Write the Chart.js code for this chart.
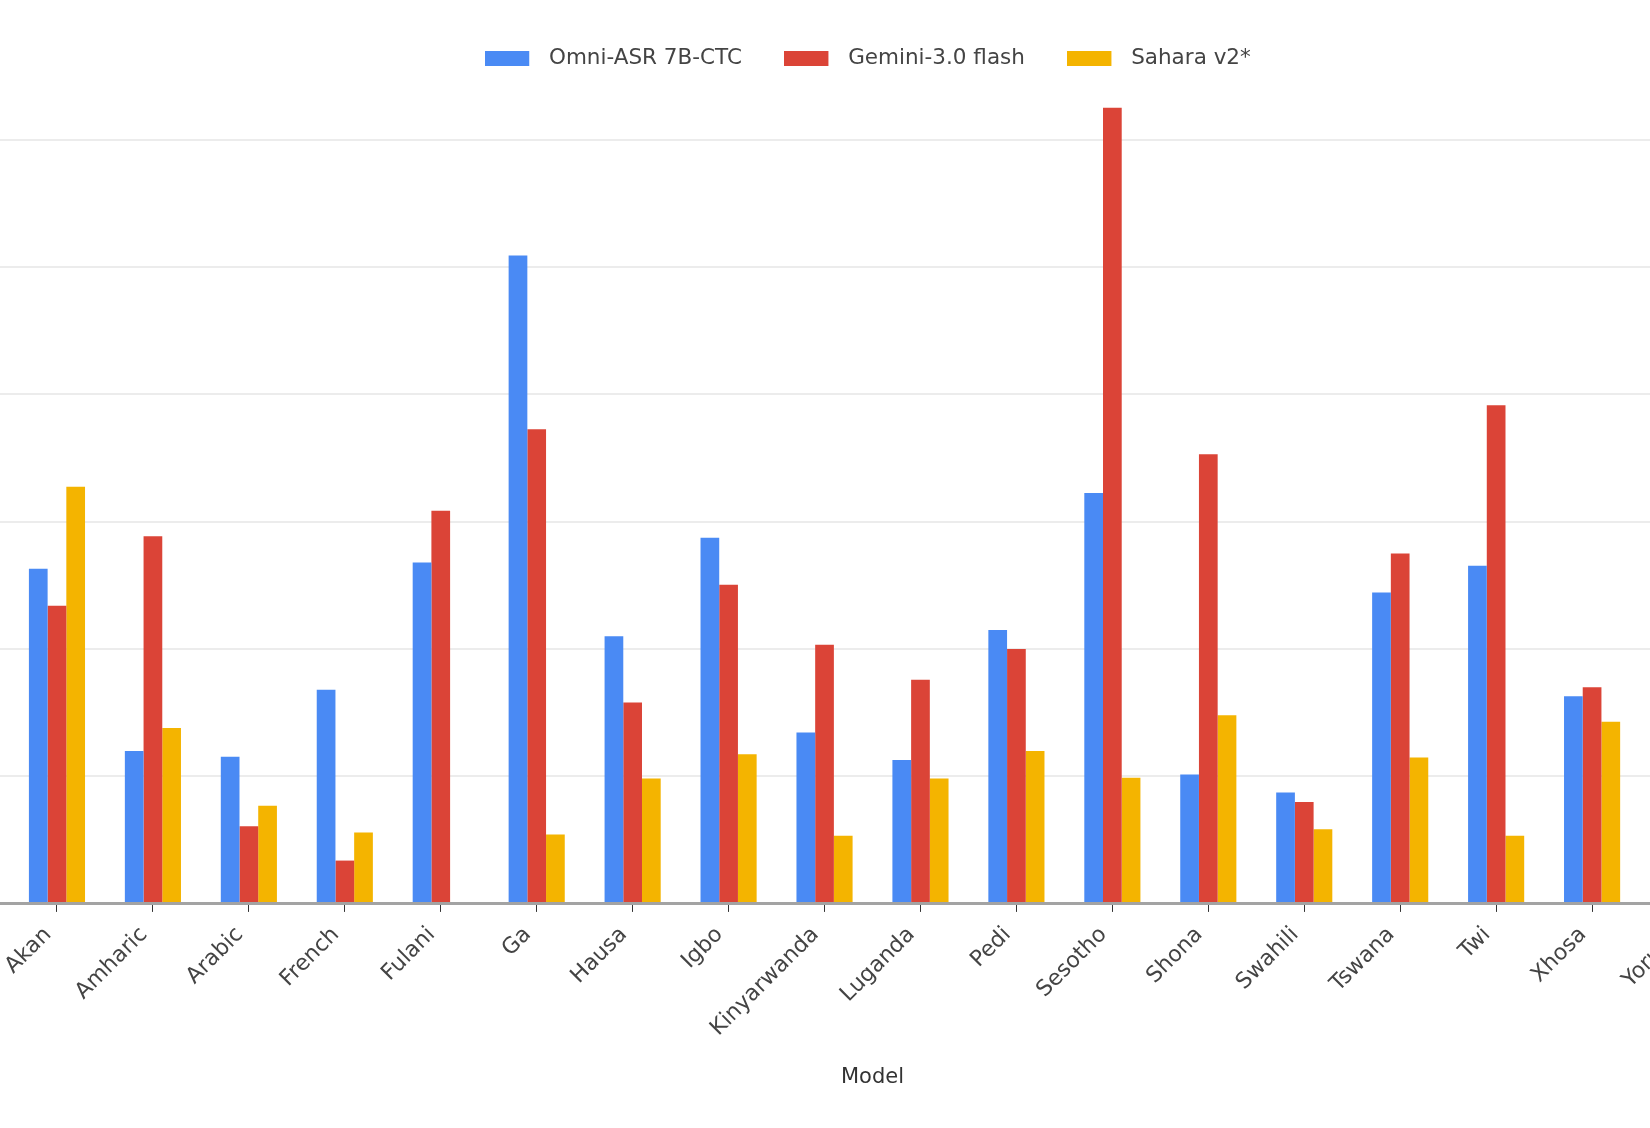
<!DOCTYPE html>
<html><head>
<meta charset="UTF-8">
<title>ASR WER by language</title>
<script src="https://cdn.jsdelivr.net/npm/chart.js"></script>
<style>
  html, body { margin: 0; padding: 0; background: #fff; overflow: hidden; }
  body { width: 1650px; height: 1128px; position: relative; }
  #wrap { position: absolute; left: 0; top: 5px; width: 1736px; height: 1085px; }
</style>
</head><body>
<div id="wrap"><canvas id="chart"></canvas></div>
<script>
// languages on the x axis (the last one is cut off by the frame)
const languages = ['Akan', 'Amharic', 'Arabic', 'French', 'Fulani', 'Ga', 'Hausa', 'Igbo', 'Kinyarwanda',
  'Luganda', 'Pedi', 'Sesotho', 'Shona', 'Swahili', 'Tswana', 'Twi', 'Xhosa', 'Yoruba'];

// values (y labels are not visible, grid step taken as 20)
const omniAsr = [52.6, 24.0, 23.1, 33.6, 53.6, 101.8, 42.0, 57.5, 26.9, 22.6, 43.0, 64.5, 20.3, 17.5, 48.9, 53.1, 32.6, null];
const gemini = [46.8, 57.7, 12.2, 6.8, 61.7, 74.5, 31.6, 50.1, 40.7, 35.2, 40.0, 125.0, 70.6, 16.0, 55.0, 78.3, 34.0, null];
const sahara = [65.5, 27.6, 15.4, 11.2, null, 10.9, 19.7, 23.5, 10.7, 19.7, 24.0, 19.8, 29.6, 11.7, 23.0, 10.7, 28.6, null];

const seriesNames = ['Omni-ASR 7B-CTC', 'Gemini-3.0 flash', 'Sahara v2*'];
const seriesColors = ['#4a8af4', '#db4437', '#f4b400'];

const yMax = 129.5;
const yStep = 20;

Chart.defaults.font.family = '"DejaVu Sans", sans-serif';
Chart.defaults.font.size = 21;
Chart.defaults.color = '#444';

// legend swatch with some empty space on its right, so the text sits further from the box
const legendBoxes = seriesColors.map((color) => {
  const c = document.createElement('canvas');
  c.width = 53;
  c.height = 15;
  const g = c.getContext('2d');
  g.fillStyle = color;
  g.fillRect(0, 0, 44, 15);
  return c;
});

const datasets = [omniAsr, gemini, sahara].map((data, i) => ({
  label: seriesNames[i],
  data,
  backgroundColor: seriesColors[i],
  borderWidth: 0,
  categoryPercentage: 0.585,
  barPercentage: 1.0,
}));

new Chart(document.getElementById('chart'), {
  type: 'bar',
  data: { labels: languages, datasets },
  options: {
    responsive: true,
    maintainAspectRatio: false,
    animation: false,
    layout: { padding: 0 },
    plugins: {
      legend: {
        position: 'top',
        labels: {
          usePointStyle: true,
          pointStyleWidth: 53,
          boxHeight: 15,
          padding: 42.5,
          color: '#444',
          font: { size: 21.5 },
          generateLabels: (chart) => Chart.defaults.plugins.legend.labels.generateLabels(chart)
            .map((item, i) => ({ ...item, pointStyle: legendBoxes[i] })),
        },
      },
      tooltip: { enabled: false },
    },
    scales: {
      x: {
        grid: {
          display: true,
          drawOnChartArea: false,
          offset: false,
          color: '#333',
          lineWidth: 1,
          tickLength: 8,
        },
        border: { display: true, color: '#a3a3a3', width: 3, z: 1 },
        ticks: {
          autoSkip: false,
          maxRotation: 45,
          minRotation: 45,
          padding: 10,
          labelOffset: -9,
          color: '#444',
          font: { size: 22 },
        },
        title: {
          display: true,
          text: 'Model',
          color: '#333',
          padding: { top: 13.2, bottom: 0 },
        },
      },
      y: {
        min: 0,
        max: yMax,
        border: { display: false },
        grid: {
          drawTicks: true,
          tickLength: 9,
          color: (ctx) => {
            if (!ctx.tick) return 'transparent';
            if (ctx.tick.value === 0) return '#a3a3a3';
            return ctx.tick.value % yStep === 0 ? '#ececec' : 'transparent';
          },
          lineWidth: (ctx) => (ctx.tick && ctx.tick.value === 0 ? 3 : 2),
        },
        ticks: { display: false, stepSize: yStep },
      },
    },
  },
});
</script>
</body></html>
